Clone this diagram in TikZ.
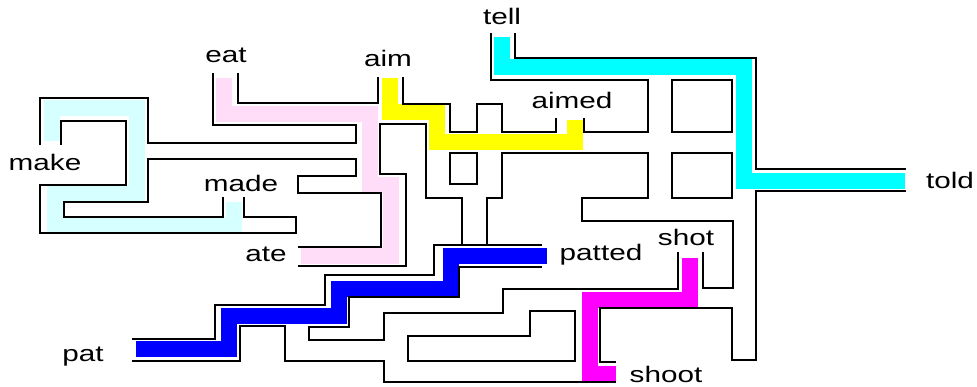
\documentclass[tikz,border=0pt]{standalone}
\usepackage{fontspec}
\setmainfont{Liberation Sans}
\usepackage{graphicx}
\definecolor{lcyan}{RGB}{214,255,255}
\definecolor{lpink}{RGB}{255,220,248}
\definecolor{mcyan}{RGB}{0,255,255}
\definecolor{myellow}{RGB}{255,255,0}
\definecolor{mblue}{RGB}{0,0,255}
\definecolor{mmag}{RGB}{255,0,255}
\newcommand\mzlbl[1]{\scalebox{1.32}[1]{#1}}
\begin{document}
\begin{tikzpicture}[x=1pt,y=-1pt,
  wall/.style={draw=black,line width=2.4pt,line join=miter,line cap=butt},
  band/.style={line width=15.5pt,line join=miter,line cap=butt},
  lbl/.style={inner sep=0pt,anchor=base,font=\fontsize{22.5}{27}\selectfont}]
\useasboundingbox (0,0) rectangle (977,387);
\fill[white] (0,0) rectangle (977,387);
% solution bands
\draw[band,lcyan,line width=16pt] (52,141) -- (52,108) -- (137,108) -- (137,193) -- (55,193) -- (55,225) -- (234,225) -- (234,202);
\draw[band,lpink] (224,78) -- (224,114) -- (370,114) -- (370,185) -- (391,185) -- (391,256) -- (301,256);
\draw[band,myellow] (390,78) -- (390,112) -- (437,112) -- (437,142) -- (575,142) -- (575,120);
\draw[band,mcyan] (502,37) -- (502,67) -- (744,67) -- (744,181) -- (905,181);
\draw[band,mblue] (136,349) -- (229,349) -- (229,316) -- (339,316) -- (339,289) -- (451,289) -- (451,256) -- (547,256);
\draw[band,mmag] (690,258) -- (690,300) -- (590,300) -- (590,374) -- (616,374);
% walls
\draw[wall] (40,145) -- (40,98) -- (148,98) -- (148,143) -- (356,143) -- (356,125) -- (213,125) -- (213,73);
\draw[wall] (61,145) -- (61,121) -- (126,121) -- (126,185) -- (40,185) -- (40,233) -- (296,233) -- (296,217) -- (244,217) -- (244,197);
\draw[wall] (223,197) -- (223,217) -- (64,217) -- (64,202) -- (148,202) -- (148,159) -- (356,159) -- (356,176) -- (298,176) -- (298,193) -- (381,193) -- (381,247) -- (298,247);
\draw[wall] (238,73) -- (238,103) -- (378,103) -- (378,77);
\draw[wall] (403,77) -- (403,104) -- (450,104) -- (450,132) -- (477,132) -- (477,104) -- (502,104) -- (502,132) -- (556,132) -- (556,118);
\draw[wall] (584,118) -- (584,132) -- (648,132) -- (648,80) -- (491,80) -- (491,33);
\draw[wall] (515,33) -- (515,58) -- (756,58) -- (756,169) -- (906,169);
\draw[wall] (906,191) -- (756,191) -- (756,360) -- (732,360) -- (732,308) -- (600,308) -- (600,362) -- (616,362);
\draw[wall] (672,80) rectangle (732,132);
\draw[wall] (672,153) rectangle (732,198);
\draw[wall] (450,153) rectangle (477,184);
\draw[wall] (408,336) -- (530,336) -- (530,311) -- (575,311) -- (575,361) -- (408,361) -- cycle;
\draw[wall] (487,245) -- (487,198) -- (502,198) -- (502,153) -- (648,153) -- (648,198) -- (582,198) -- (582,221) -- (733,221) -- (733,288) -- (703,288) -- (703,252);
\draw[wall] (298,266) -- (406,266) -- (406,174) -- (380,174) -- (380,124) -- (426,124) -- (426,198) -- (462,198) -- (462,245);
\draw[wall] (542,245) -- (434,245) -- (434,275) -- (325,275) -- (325,305) -- (215,305) -- (215,339) -- (132,339);
\draw[wall] (542,267) -- (459,267) -- (459,297) -- (349,297) -- (349,327) -- (309,327) -- (309,340) -- (384,340) -- (384,313) -- (503,313) -- (503,289) -- (678,289) -- (678,252);
\draw[wall] (132,361) -- (240,361) -- (240,326) -- (285,326) -- (285,361) -- (384,361) -- (384,382) -- (616,382);
% labels
\node[lbl] (tell) at (502,25) {\mzlbl{tell}};
\node[lbl] (eat) at (226,63) {\mzlbl{eat}};
\node[lbl] (aim) at (388,67) {\mzlbl{aim}};
\node[lbl] (aimed) at (572,109) {\mzlbl{aimed}};
\node[lbl] (make) at (45,171) {\mzlbl{make}};
\node[lbl] (made) at (241,192) {\mzlbl{made}};
\node[lbl] (ate) at (266,262) {\mzlbl{ate}};
\node[lbl] (told) at (950,189) {\mzlbl{told}};
\node[lbl] (patted) at (601,261) {\mzlbl{patted}};
\node[lbl] (shot) at (686,246) {\mzlbl{shot}};
\node[lbl] (pat) at (83,361) {\mzlbl{pat}};
\node[lbl] (shoot) at (666,382) {\mzlbl{shoot}};
\end{tikzpicture}
\end{document}
